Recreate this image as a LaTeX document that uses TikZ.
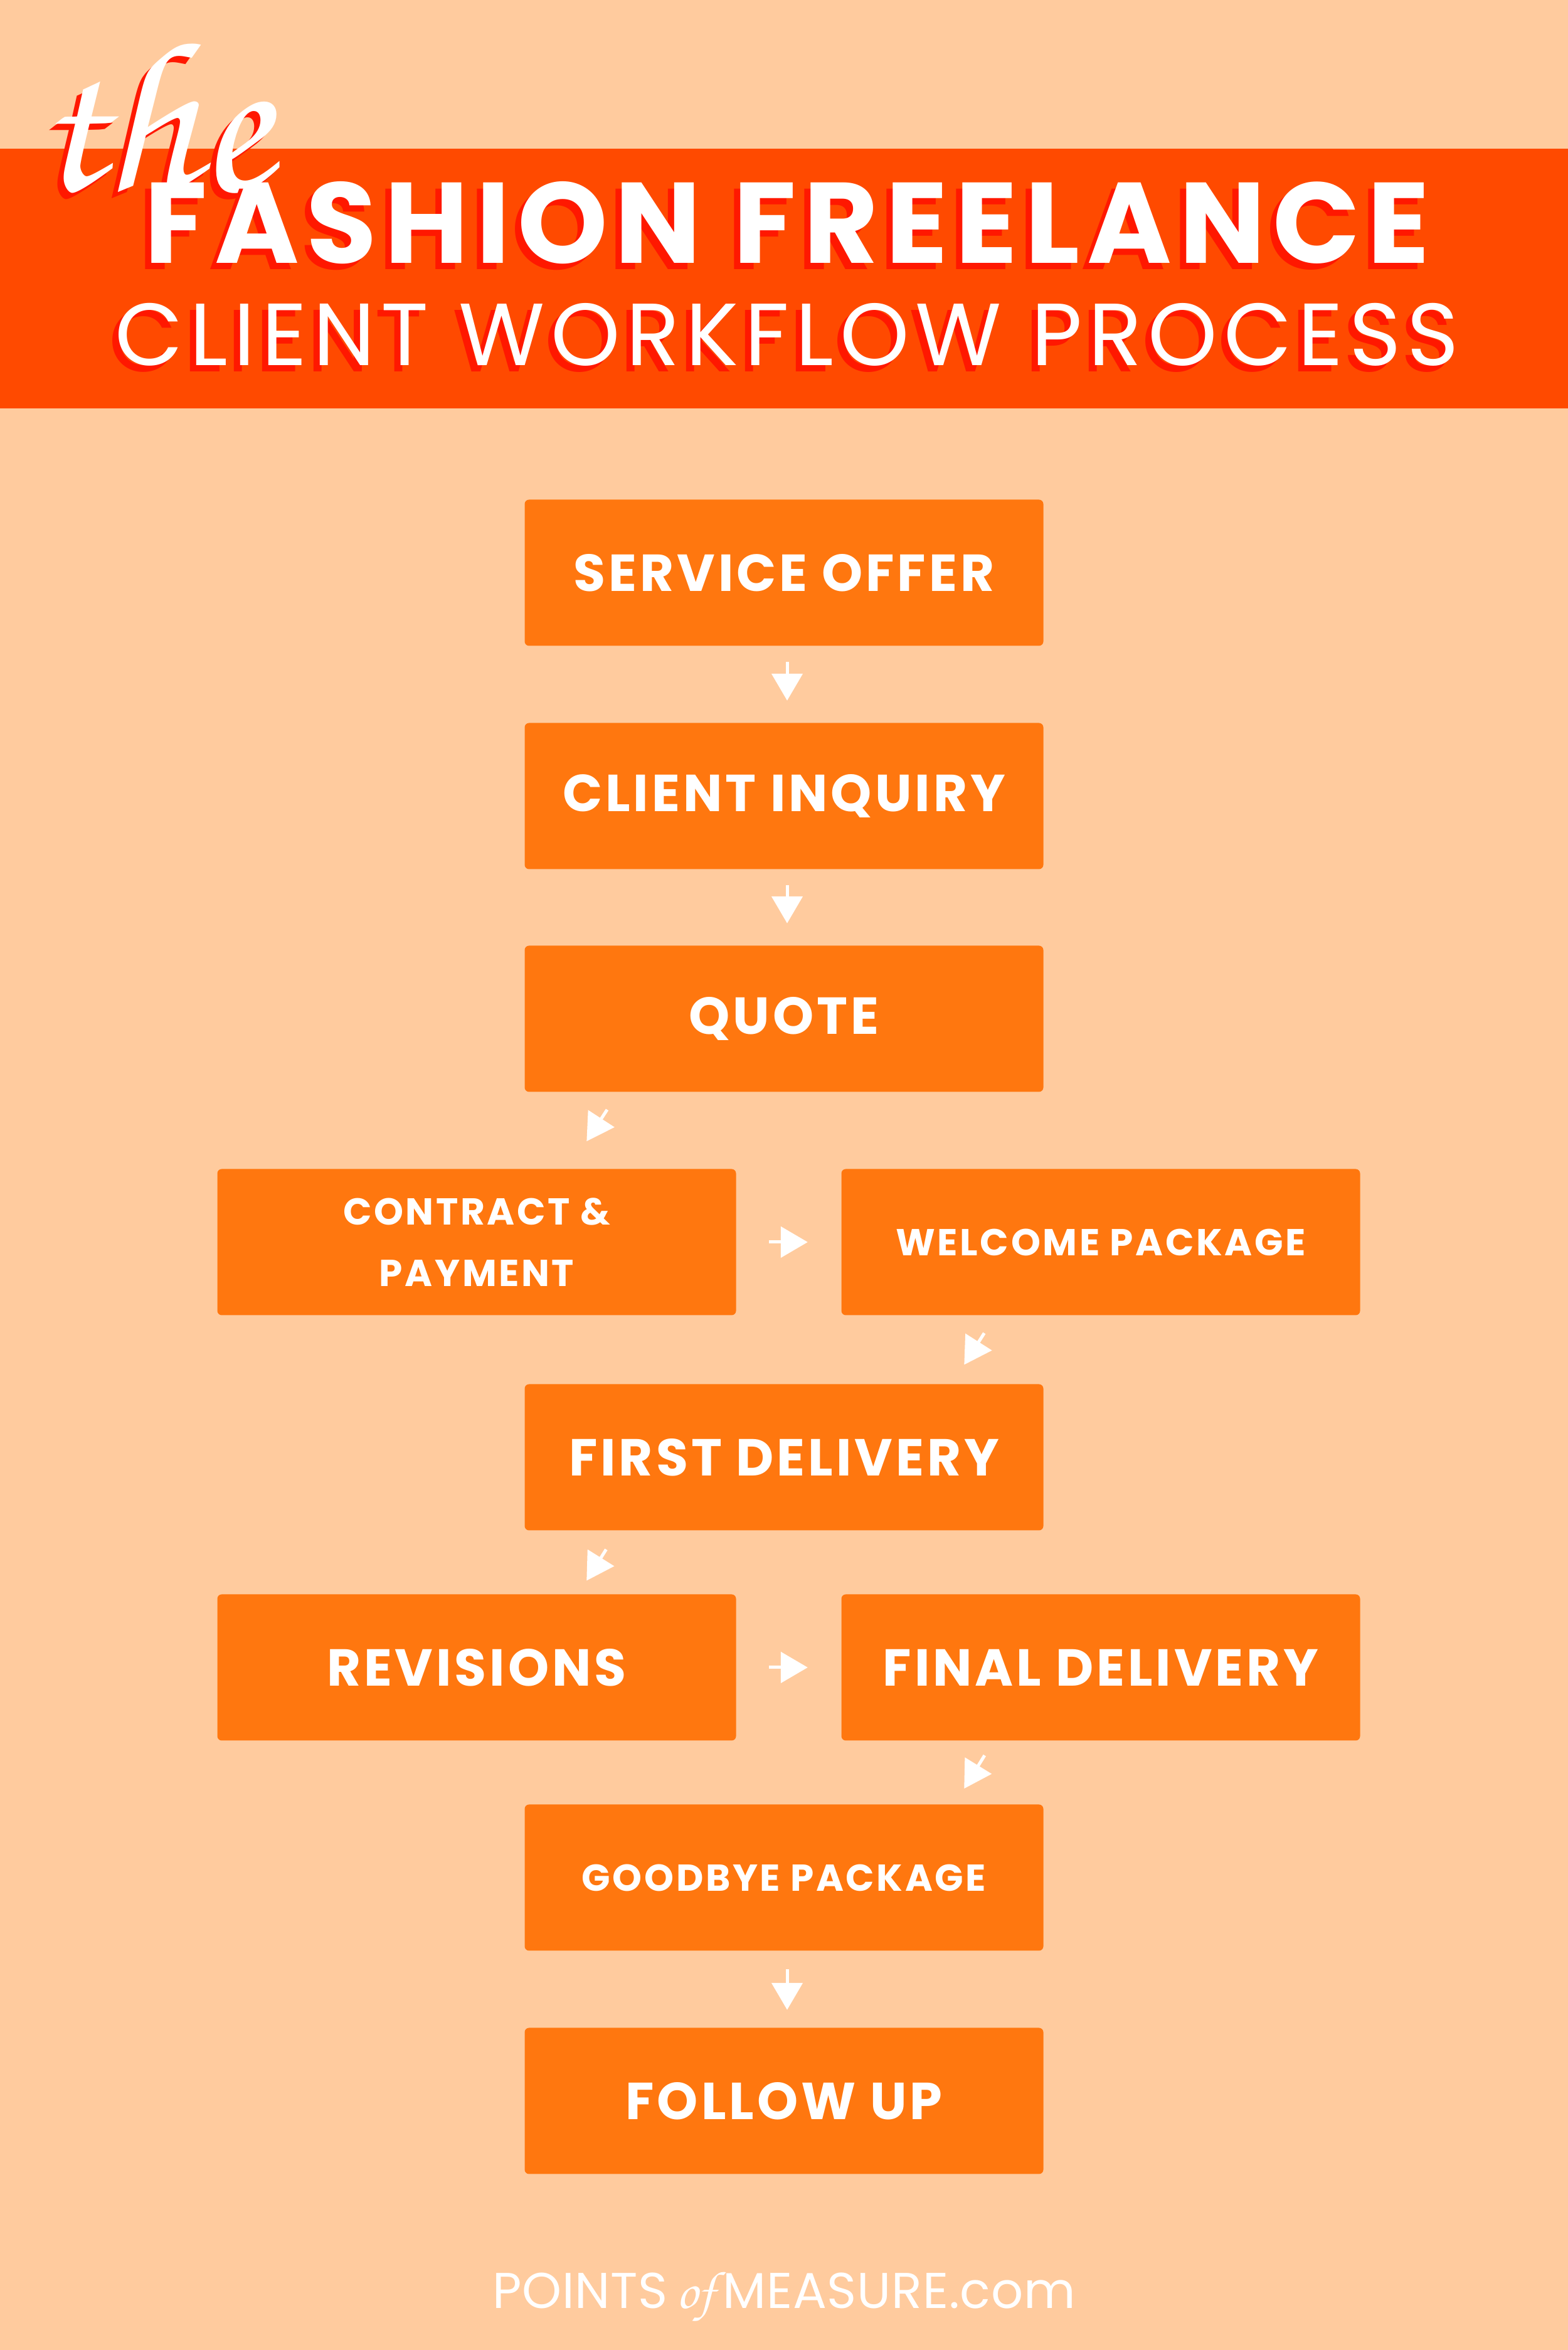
\documentclass[tikz,border=0pt]{standalone}
\usepackage{fontspec}
\setmainfont{Poppins}
\newfontfamily\boxfam{Poppins}[LetterSpace=6]
\newfontfamily\titlefam{Poppins}[LetterSpace=6.6]
\newfontfamily\subtitlefam{Poppins}[LetterSpace=7]
\newfontfamily\footfam{Poppins}[LetterSpace=1]
\newfontfamily\chorusfam{TeX Gyre Chorus}
\usetikzlibrary{arrows.meta}
\definecolor{peach}{RGB}{255,203,158}
\definecolor{bannerred}{RGB}{255,74,0}
\definecolor{shadowred}{RGB}{255,24,0}
\definecolor{boxorange}{RGB}{255,119,15}
\newcommand{\bigboxfont}{\boxfam\bfseries\fontsize{23.6}{28}\selectfont}
\newcommand{\smallboxfont}{\boxfam\bfseries\fontsize{17}{27.9}\selectfont}
\newcommand{\titlefont}{\titlefam\bfseries\fontsize{52}{60}\selectfont}
\newcommand{\subtitlefont}{\subtitlefam\fontsize{40}{48}\selectfont}
\newcommand{\thefont}{\chorusfam\fontsize{98}{98}\selectfont}
\newcommand{\footfont}{\footfam\fontsize{22.8}{26}\selectfont}
% texto blanco con sombra roja abajo a la izquierda
\newcommand{\redshadow}[1]{\makebox[0pt][l]{\hspace{-0.1cm}\raisebox{-0.1cm}{\color{shadowred}#1}}#1}
\tikzset{
  stepbox/.style={fill=boxorange, rounded corners=0.07cm, minimum width=8.27cm,
    minimum height=2.33cm, inner sep=0pt, text=white, align=center, font=\bigboxfont},
  smallbox/.style={stepbox, font=\smallboxfont},
  flow/.style={white, line width=0.05cm, -{Triangle[width=0.49cm,length=0.43cm]}},
}
\begin{document}
\begin{tikzpicture}
  % Fondo y banda del titulo
  \fill[peach] (0,0) rectangle (25,37.46);
  \useasboundingbox (0,0) rectangle (25,37.46);
  \fill[bannerred] (0,30.95) rectangle (25,35.09);

  % Titulo con sombra
  \node[anchor=base west, text=white, font=\thefont, inner sep=0pt] (the) at (0.55,34.42) {\redshadow{the}};
  \node[anchor=base, text=white, font=\titlefont] (title) at (12.55,33.26) {\redshadow{FASHION FREELANCE}};
  \node[anchor=base, text=white, font=\subtitlefont] (subtitle) at (12.55,31.63) {\redshadow{CLIENT WORKFLOW PROCESS}};

  % Pasos
  \node[stepbox] (offer) at (12.5,28.33) {SERVICE OFFER};
  \node[stepbox] (inquiry) at (12.5,24.77) {CLIENT INQUIRY};
  \node[stepbox] (quote) at (12.5,21.22) {QUOTE};
  \node[smallbox] (contract) at (7.6,17.66) {CONTRACT \&\\PAYMENT};
  \node[smallbox] (welcome) at (17.55,17.66) {WELCOME PACKAGE};
  \node[stepbox] (first) at (12.5,14.23) {FIRST DELIVERY};
  \node[stepbox] (revisions) at (7.6,10.88) {REVISIONS};
  \node[stepbox] (final) at (17.55,10.88) {FINAL DELIVERY};
  \node[smallbox] (goodbye) at (12.5,7.53) {GOODBYE PACKAGE};
  \node[stepbox] (follow) at (12.5,3.97) {FOLLOW UP};

  % Flechas
  \draw[flow, shorten <=0.25cm, shorten >=0.35cm] ([xshift=0.05cm]offer.south) -- ([xshift=0.05cm]inquiry.north);
  \draw[flow, shorten <=0.25cm, shorten >=0.35cm] ([xshift=0.05cm]inquiry.south) -- ([xshift=0.05cm]quote.north);
  \draw[flow, shorten <=0.33cm, shorten >=0.52cm] ([xshift=-2.64cm]quote.south) -- ([xshift=1.47cm]contract.north);
  \draw[flow, shorten <=0.52cm, shorten >=0.53cm] (contract.east) -- (welcome.west);
  \draw[flow, shorten <=0.33cm, shorten >=0.36cm] ([xshift=-1.68cm]welcome.south) -- ([xshift=2.68cm]first.north);
  \draw[flow, shorten <=0.35cm, shorten >=0.25cm] ([xshift=-2.65cm]first.south) -- ([xshift=1.62cm]revisions.north);
  \draw[flow, shorten <=0.52cm, shorten >=0.53cm] (revisions.east) -- (final.west);
  \draw[flow, shorten <=0.27cm, shorten >=0.29cm] ([xshift=-1.71cm]final.south) -- ([xshift=2.72cm]goodbye.north);
  \draw[flow, shorten <=0.29cm, shorten >=0.28cm] ([xshift=0.05cm]goodbye.south) -- ([xshift=0.05cm]follow.north);

  % Pie
  \node[anchor=base, text=white, font=\footfont] (footer) at (12.5,0.67)
    {POINTS\,{\chorusfam\fontsize{24}{24}\selectfont of}\,MEASURE.com};
\end{tikzpicture}
\end{document}
